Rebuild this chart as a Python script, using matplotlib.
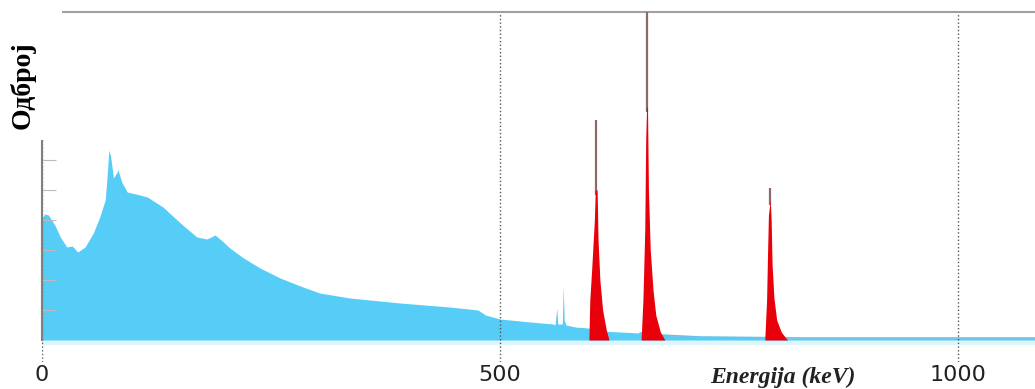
import numpy as np
import matplotlib.pyplot as plt
from matplotlib.patches import Rectangle

# background (Compton) spectrum, energy in keV and counts (arb. units)
bg_energy = [0, 3, 7, 14, 20, 27, 33, 39, 47, 56, 63, 69, 71, 73, 75, 78, 82, 83,
             87, 93, 107, 115, 132, 151, 169, 180, 189, 198, 205, 220, 238, 260,
             282, 303, 336, 391, 445, 476, 484, 500, 533, 558, 560, 562, 563, 568,
             569, 570, 572, 582, 596, 609, 653, 675, 718, 827, 1084]
bg_counts = [122, 126, 125, 115, 103, 93, 94, 88, 93, 107, 123, 140, 163, 190, 183,
             162, 168, 170, 158, 148, 145, 143, 133, 117, 103, 101, 105, 98, 92, 82,
             72, 62, 54, 47, 42, 37, 33, 30, 25, 21, 18, 16, 15, 32, 16, 16, 55, 20,
             15, 13, 12, 9, 7, 5, 3, 2, 2]

# photopeaks (605, 662, 796 keV)
peak_energy = [
    [597, 598, 600, 603, 604, 605, 606, 607, 609, 612, 616, 619],
    [654, 656, 658, 659, 660, 661, 662, 664, 667, 670, 675, 680],
    [789, 791, 792, 793, 795, 796, 797, 799, 802, 807, 812, 814],
]
peak_counts = [
    [0, 40, 70, 120, 160, 220, 150, 100, 60, 30, 10, 0],
    [0, 40, 110, 200, 330, 250, 150, 90, 50, 25, 8, 0],
    [0, 40, 85, 125, 152, 120, 75, 42, 20, 8, 2, 0],
]
peak_red_top = [150, 233, 140]

xticks = [0, 500, 1000]

fig = plt.figure(figsize=(10.35, 3.89), dpi=100)
ax = fig.add_axes([42 / 1035, 1 - 362 / 389, 1 - 42 / 1035, 350 / 389])

ax.axhspan(-5, 0, color="#dff5fc", lw=0)
ax.fill_between(bg_energy, 0, bg_counts, color="#55cdf7", lw=0)
ax.plot(bg_energy[-5:], bg_counts[-5:], color="#6cc0e6", lw=1.2)

for e, c, top in zip(peak_energy, peak_counts, peak_red_top):
    e = np.array(e)
    c = np.array(c)
    i = np.argmax(c)
    ax.vlines(e[i], top - 5, c[i], color="#8c6a6a", lw=1.6, zorder=3)
    ax.fill_between(e, 0, np.minimum(c, top), color="#e8000b", lw=0, zorder=4)

ax.set_xlim(0, 1084)
ax.set_ylim(-22, 328)

ax.spines["right"].set_visible(False)
ax.spines["bottom"].set_visible(False)
ax.spines["top"].set_color("#a0a0a0")
ax.spines["top"].set_linewidth(1.5)
ax.spines["left"].set_color("#808080")
ax.spines["left"].set_linewidth(1.5)
ax.spines["left"].set_bounds(0, 215)

ax.set_xticks(xticks)
ax.set_xticklabels([str(t) for t in xticks], fontsize=16, family="DejaVu Sans",
                   color="#222222")
ax.tick_params(axis="x", length=0, pad=2)
ax.set_yticks(np.arange(30, 301, 30))
ax.set_yticklabels([])
ax.tick_params(axis="y", direction="in", length=10, width=0.8, color="#bbbbbb")
ax.grid(axis="x", ls=":", color="#555555", lw=1)

# white patch behind the y label, as in the source image
fig.add_artist(Rectangle((0, 1 - 140 / 389), 62 / 1035, 140 / 389,
                         transform=fig.transFigure, facecolor="white",
                         edgecolor="none", zorder=5))

fig.text(783 / 1035, 1 - 377 / 389, "Energija (keV)", fontsize=17,
         family="Liberation Serif", weight="bold", style="italic",
         ha="center", va="center", color="#222222")
fig.text(23 / 1035, 1 - 85 / 389, "Одброј", fontsize=20, rotation=90,
         family="Liberation Serif", weight="bold", ha="center", va="center",
         zorder=6)

fig.savefig("out.png", dpi=100)
